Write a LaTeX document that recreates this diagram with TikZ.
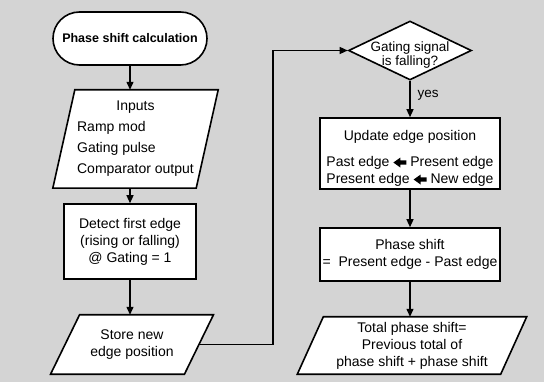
\documentclass[tikz,border=0pt]{standalone}
\usepackage{fontspec}
\setmainfont{Liberation Sans}
\usetikzlibrary{arrows.meta,shapes.geometric,backgrounds}
\definecolor{bgcol}{RGB}{212,212,212}
\newcommand{\larr}{\tikz[baseline=-4pt,x=1pt,y=1pt]\fill (0pt,0pt) -- (7pt,5pt) -- (7pt,2.2pt) -- (13pt,2.2pt) -- (13pt,-2.2pt) -- (7pt,-2.2pt) -- (7pt,-5pt) -- cycle;}
\newcommand{\paral}[2]{%
  \begin{scope}[on background layer]
    \draw[shapeline,fill=white] ([xshift=#2]#1.north west) -- ([xshift=#2]#1.north east)
      -- ([xshift=-#2]#1.south east) -- ([xshift=-#2]#1.south west) -- cycle;
  \end{scope}}
\tikzset{
  shapeline/.style={line width=1.6pt,draw=black},
  txt/.style={font=\fontsize{14}{17}\selectfont,inner sep=0pt,align=center},
  boxnode/.style={txt,shapeline,fill=white,rectangle},
  termnode/.style={shapeline,fill=white,rectangle,rounded corners=26.5pt,inner sep=0pt,
    minimum width=154pt,minimum height=53pt,font=\fontsize{12.5}{15}\selectfont\bfseries},
  paranode/.style={txt,rectangle},
  dianode/.style={shapeline,fill=white,diamond,inner sep=0pt},
  arr/.style={line width=1.3pt,-{Triangle[length=8pt,width=7pt]}},
}
\begin{document}
\begin{tikzpicture}[x=1pt,y=-1pt]
\useasboundingbox (0,0) rectangle (544,382);
\begin{scope}[on background layer]
  \fill[bgcol] (0,0) rectangle (544,382);
\end{scope}
% left column
\node[termnode] (start) at (130,38.5) {Phase shift calculation};
\node[paranode,minimum width=143pt,minimum height=98pt] (inp) at (135.5,139)
  {\begin{tabular}{@{}l@{}}\multicolumn{1}{@{}c@{}}{Inputs}\\[4pt]Ramp mod\\[4pt]Gating pulse\\[4pt]Comparator output\end{tabular}};
\paral{inp}{11pt}
\node[boxnode,minimum width=132pt,minimum height=75pt] (det) at (130,241.5)
  {Detect first edge\\(rising or falling)\\@ Gating = 1};
\node[paranode,minimum width=133.5pt,minimum height=59pt] (store) at (132,344.5)
  {Store new\\edge position};
\paral{store}{14.5pt}
% right column
\node[dianode,minimum width=123pt,minimum height=59pt] (dec) at (410,50.5) {};
\node[txt,font=\fontsize{13.5}{12.5}\selectfont] (dectxt) at (410,55) {Gating signal\\is falling?};
\node[boxnode,minimum width=180pt,minimum height=71pt] (upd) at (410,153.5)
  {\rule{0pt}{20pt}Update edge position\\[9pt]Past edge \larr\ Present edge\\Present edge \larr\ New edge};
\node[boxnode,minimum width=180pt,minimum height=53pt] (ph) at (410,254.5)
  {Phase shift\\=\ \ Present edge - Past edge};
\node[paranode,minimum width=203pt,minimum height=57pt] (tot) at (412,345.5)
  {Total phase shift=\\Previous total of\\phase shift + phase shift};
\paral{tot}{13pt}
% connectors
\coordinate (c1) at (273,50.5);
\draw[arr] (start.south) -- (start.south |- inp.north);
\draw[arr] (inp.south -| det.north) -- (det.north);
\draw[arr] (det.south) -- (det.south |- store.north);
\draw[arr] (store.east) -| (c1) -- (dec.west);
\draw[arr] (dec.south) -- node[pos=0.4,anchor=west,xshift=7pt,txt,font=\fontsize{13.5}{15}\selectfont]{yes} (upd.north);
\draw[arr] (upd.south) -- (ph.north);
\draw[arr] (ph.south) -- (ph.south |- tot.north);
\end{tikzpicture}
\end{document}
